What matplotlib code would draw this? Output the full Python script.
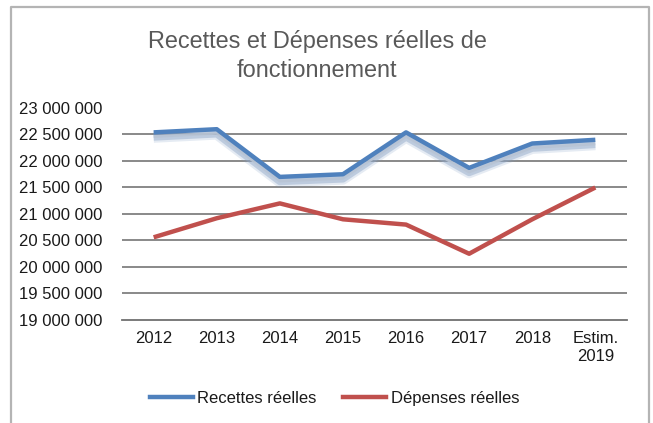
import matplotlib.pyplot as plt
import matplotlib.patheffects as pe
from matplotlib.ticker import FuncFormatter
from matplotlib.lines import Line2D

# --- data ---
years = ['2012', '2013', '2014', '2015', '2016', '2017', '2018', 'Estim.\n2019']
recettes = [22540000, 22600000, 21700000, 21750000, 22540000, 21870000, 22330000, 22400000]
depenses = [20560000, 20920000, 21200000, 20900000, 20800000, 20250000, 20900000, 21500000]
yticks = [19000000, 19500000, 20000000, 20500000, 21000000, 21500000, 22000000, 22500000, 23000000]

plt.rcParams['font.family'] = ['Liberation Sans', 'DejaVu Sans']
text_color = '#1a1a1a'
grid_color = '#808080'
blue = '#4F81BD'
red = '#C0504D'

fig = plt.figure(figsize=(6.53, 4.23), dpi=100)
ax = fig.add_axes([0.187, 0.2435, 0.773, 0.5012])

# outer chart frame (top, left, right)
fig.add_artist(Line2D([11 / 653, 11 / 653, 649 / 653, 649 / 653],
                      [0, 1 - 7 / 423, 1 - 7 / 423, 0],
                      transform=fig.transFigure, color='#b4b4b4', lw=1.6))

x = list(range(len(years)))

# blue line with soft shadow underneath
shadow = [pe.SimpleLineShadow(offset=(0, -3.5), shadow_color='#7f9cc4', alpha=0.2, linewidth=8),
          pe.SimpleLineShadow(offset=(0, -3.5), shadow_color='#8ea6c6', alpha=0.45, linewidth=5),
          pe.SimpleLineShadow(offset=(0, -3.0), shadow_color='#b8c4d4', alpha=0.9, linewidth=2),
          pe.Normal()]
ax.plot(x, recettes, color=blue, lw=3.2, solid_capstyle='butt', path_effects=shadow, zorder=3)
ax.plot(x, depenses, color=red, lw=3.2, solid_capstyle='butt', zorder=3)

ax.set_xlim(-0.5, len(years) - 0.5)
ax.set_ylim(19000000, 23000000)
ax.set_yticks(yticks)
ax.yaxis.set_major_formatter(FuncFormatter(lambda v, p: f'{int(v):,}'.replace(',', ' ')))
ax.set_xticks(x)
ax.set_xticklabels(years)

for yv in yticks[1:-1]:
    ax.axhline(yv, color=grid_color, lw=1.3, zorder=1)

for s in ['top', 'right', 'left']:
    ax.spines[s].set_visible(False)
ax.spines['bottom'].set_color('#707070')
ax.spines['bottom'].set_linewidth(1.3)
ax.tick_params(axis='both', length=0, labelsize=12, colors=text_color)
ax.tick_params(axis='y', pad=14)
ax.tick_params(axis='x', pad=8)

fig.text(0.486, 1 - 56 / 423, 'Recettes et Dépenses réelles de\nfonctionnement',
         ha='center', va='center', fontsize=16.9, color='#595959', linespacing=1.28)

handles = [Line2D([], [], color=blue, lw=3.2), Line2D([], [], color=red, lw=3.2)]
fig.legend(handles, ['Recettes réelles', 'Dépenses réelles'], loc='center',
           bbox_to_anchor=(0.512, 1 - 398 / 423), ncol=2, frameon=False, fontsize=12,
           handlelength=2.6, handletextpad=0.25, columnspacing=1.6,
           labelcolor=text_color)

fig.savefig('out.png', dpi=100)
